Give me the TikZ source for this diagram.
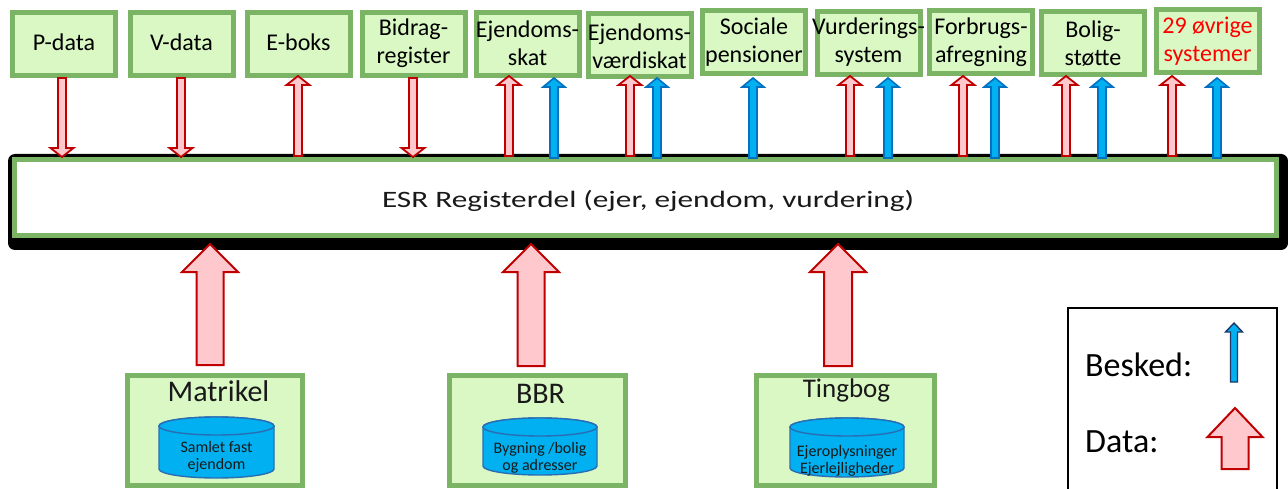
\documentclass[tikz,border=0pt]{standalone}
\usepackage{fontspec}
\setmainfont{Carlito}
\newfontfamily\esrfont[FakeStretch=1.33]{Carlito}
\usetikzlibrary{calc}
\definecolor{gborder}{RGB}{122,180,100}
\definecolor{gfill}{RGB}{218,248,196}
\definecolor{pinkf}{RGB}{255,200,204}
\definecolor{redb}{RGB}{192,0,0}
\definecolor{bluef}{RGB}{0,176,240}
\definecolor{blueb}{RGB}{0,112,192}
\definecolor{navyb}{RGB}{31,56,100}
\definecolor{cylb}{RGB}{40,110,180}
\definecolor{redtxt}{RGB}{255,0,0}
\tikzset{
  topbox/.style={draw=gborder, fill=gfill, line width=5pt, minimum width=103pt, minimum height=63pt, inner sep=0pt},
  toptext/.style={align=center, inner sep=0pt, font=\fontsize{24}{28}\selectfont},
  botbox/.style={draw=gborder, fill=gfill, line width=5pt, minimum height=110pt, inner sep=0pt},
  esrbox/.style={draw=gborder, fill=white, line width=5pt, minimum width=1262pt, minimum height=76pt, inner sep=0pt},
  redarrow/.style={draw=redb, fill=pinkf, line width=1.8pt, line join=miter},
  bigredarrow/.style={draw=redb, fill=pinkf, line width=2pt, line join=miter},
  bluearrow/.style={draw=blueb, fill=bluef, line width=1.6pt, line join=miter},
  legblue/.style={draw=navyb, fill=bluef, line width=1.4pt, line join=miter},
  cylstyle/.style={draw=cylb, fill=bluef, line width=1.4pt},
  cyltext/.style={align=center, inner sep=0pt, text=black!90, font=\fontsize{16}{17}\selectfont},
  bottitle/.style={anchor=base, inner sep=0pt, text=black!90},
}
% block arrow: style, x, tail y, tip y, shaft half width, head half width, head length
\newcommand\barrow[7]{%
  \pgfmathsetmacro\hbase{#4+sign(#3-#4)*#7}%
  \draw[#1] (#2-#5,#3) -- (#2-#5,\hbase) -- (#2-#6,\hbase) -- (#2,#4) -- (#2+#6,\hbase) -- (#2+#5,\hbase) -- (#2+#5,#3) -- cycle;}
% cylinder: cx, ytop, ybottom, rx, ry
\newcommand\cyl[5]{%
  \draw[cylstyle] (#1-#4,#2+#5) -- (#1-#4,#3-#5) arc[start angle=180,end angle=0,x radius=#4,y radius=#5] -- (#1+#4,#2+#5) arc[start angle=0,end angle=-180,x radius=#4,y radius=#5] -- cycle;
  \draw[cylstyle] (#1,#2+#5) ellipse[x radius=#4,y radius=#5];}
\begin{document}
\begin{tikzpicture}[x=1pt,y=-1pt]
\useasboundingbox[fill=white] (0,0) rectangle (1288,489);

% ESR register box with shadow
\fill[black, rounded corners=7pt] (8,154) rectangle (1288,250);
\node[esrbox] (esr) at (645.5,197.5) {};
\node[anchor=base, inner sep=0pt, text=black!90, font=\esrfont\fontsize{23.5}{28}\selectfont] (esrtext) at (648,208) {ESR Registerdel (ejer, ejendom, vurdering)};

% top boxes
\node[topbox] (b1) at (64,44) {};
\node[topbox] (b2) at (181.5,44) {};
\node[topbox] (b3) at (298.5,44) {};
\node[topbox] (b4) at (413.5,44) {};
\node[topbox] (b5) at (527.5,44) {};
\node[topbox] (b6) at (639.5,45) {};
\node[topbox] (b7) at (754,42.5) {};
\node[topbox] (b8) at (868.5,43.5) {};
\node[topbox] (b9) at (981,42.5) {};
\node[topbox] (b10) at (1093,43) {};
\node[topbox] (b11) at (1207.5,41) {};

\node[toptext] (t1) at ($(b1)+(0,-2)$) {P-data};
\node[toptext] (t2) at ($(b2)+(0,-2)$) {V-data};
\node[toptext] (t3) at ($(b3)+(0,-2)$) {E-boks};
\node[toptext] (t4) at ($(b4)+(0,-1)$) {Bidrag-\\register};
\node[toptext] (t5) at ($(b5)+(0,-1)$) {Ejendoms-\\skat};
\node[toptext] (t6) at ($(b6)+(0,1)$) {Ejendoms-\\værdiskat};
\node[toptext] (t7) at ($(b7)+(0,0)$) {Sociale\\pensioner};
\node[toptext] (t8) at ($(b8)+(0,-1)$) {Vurderings-\\system};
\node[toptext] (t9) at ($(b9)+(0,0)$) {Forbrugs-\\afregning};
\node[toptext] (t10) at ($(b10)+(0,1)$) {Bolig-\\støtte};
\node[toptext, text=redtxt] (t11) at ($(b11)+(0,0)$) {29 øvrige\\systemer};

% top arrows: down (data to ESR)
\barrow{redarrow}{62}{78}{157}{4}{11.5}{9}
\barrow{redarrow}{181}{78}{157}{4}{11.5}{9}
\barrow{redarrow}{413}{78}{157}{4}{11.5}{9}
% up red arrows
\barrow{redarrow}{298}{156}{76}{4}{11.5}{9}
\barrow{redarrow}{509}{156}{76}{4}{11.5}{9}
\barrow{redarrow}{630}{156}{76}{4}{11.5}{9}
\barrow{redarrow}{850}{156}{76}{4}{11.5}{9}
\barrow{redarrow}{963}{156}{76}{4}{11.5}{9}
\barrow{redarrow}{1066}{156}{76}{4}{11.5}{9}
\barrow{redarrow}{1172}{156}{76}{4}{11.5}{9}
% up blue arrows
\barrow{bluearrow}{554}{158}{78}{4}{11}{9}
\barrow{bluearrow}{657}{158}{78}{4}{11}{9}
\barrow{bluearrow}{753}{158}{78}{4}{11}{9}
\barrow{bluearrow}{888}{158}{78}{4}{11}{9}
\barrow{bluearrow}{995}{158}{78}{4}{11}{9}
\barrow{bluearrow}{1102}{158}{78}{4}{11}{9}
\barrow{bluearrow}{1217}{158}{78}{4}{11}{9}

% bottom boxes
\node[botbox, minimum width=175pt] (m) at (215,430.5) {};
\node[botbox, minimum width=176pt] (bbr) at (537.5,430.5) {};
\node[botbox, minimum width=178pt] (tb) at (845.5,430.5) {};
\node[bottitle, font=\fontsize{30}{32}\selectfont] (mt) at (218.5,401) {Matrikel};
\node[bottitle, font=\fontsize{30}{32}\selectfont] (bbrt) at (540.5,403) {BBR};
\node[bottitle, font=\fontsize{27}{30}\selectfont] (tbt) at (846.5,397) {Tingbog};

\cyl{216.5}{417}{478}{57.5}{9}
\cyl{540}{418}{475}{57}{9}
\cyl{847}{418}{477}{57}{9}
\node[cyltext] (mc) at (216.5,457) {Samlet fast\\ejendom};
\node[cyltext] (bbrc) at (540,458) {Bygning /bolig\\og adresser};
\node[cyltext] (tbc) at (847,461) {Ejeroplysninger\\Ejerlejligheder};

% big upward data arrows
\barrow{bigredarrow}{210}{365}{244}{13.5}{28}{28}
\barrow{bigredarrow}{531}{366}{244}{13.5}{28}{28}
\barrow{bigredarrow}{838}{366}{244}{14}{28}{28}

% legend
\draw[line width=1.5pt] (1068,492) -- (1068,308) -- (1277,308) -- (1277,492);
\node[anchor=base west, inner sep=0pt, font=\fontsize{34}{36}\selectfont] (lb) at (1085,376) {Besked:};
\node[anchor=base west, inner sep=0pt, font=\fontsize{34}{36}\selectfont] (ld) at (1085,452) {Data:};
\barrow{legblue}{1234}{382}{323}{3.5}{8.5}{9}
\barrow{bigredarrow}{1235}{469}{408}{13.5}{27.5}{29}
\end{tikzpicture}
\end{document}
